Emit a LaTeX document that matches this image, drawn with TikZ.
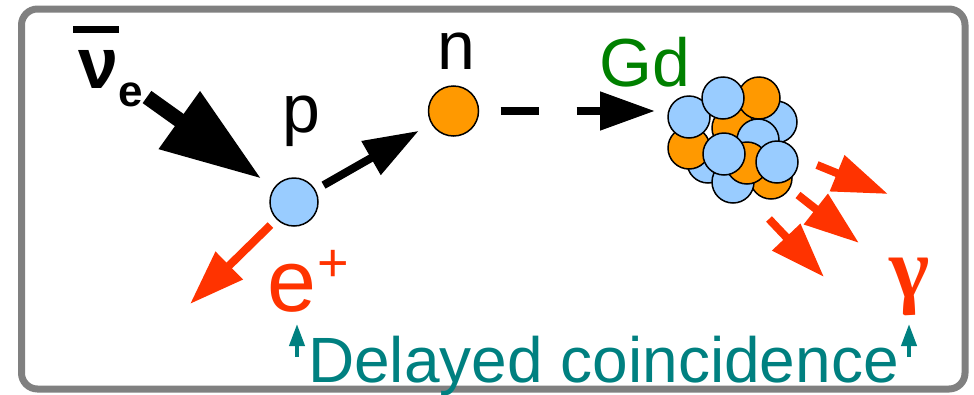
\documentclass[tikz,border=0pt]{standalone}
\usepackage{fontspec}
\setmainfont{Liberation Sans}
\newfontfamily\greekserif{Liberation Serif}
\usepackage{tikz}
\usetikzlibrary{arrows.meta, positioning}
\definecolor{protonblue}{HTML}{99CCFF}
\definecolor{neutronorange}{HTML}{FF9900}
\definecolor{photonred}{HTML}{FF3300}
\definecolor{gdgreen}{HTML}{008000}
\definecolor{cueteal}{HTML}{008080}
\definecolor{framegray}{HTML}{808080}
\tikzset{
	nucleon/.style={
		circle,
		draw,
		line width=1.5pt,
		inner sep=0pt,
		outer sep=0pt,
		minimum size=42pt
	},
	proton/.style={nucleon, fill=protonblue},
	neutron/.style={nucleon, fill=neutronorange},
	tag/.style={
		inner sep=0pt,
		font=\fontsize{68}{68}\selectfont
	},
	ray/.style={
		line width=8pt,
		-{Triangle[length=55pt, width=37pt]}
	},
	bigray/.style={
		line width=15pt,
		-{Triangle[length=101pt, width=67pt]}
	},
	cue/.style={
		cueteal,
		line width=4pt,
		-{Triangle[length=22pt, width=15pt]}
	}
}

\begin{document}
\begin{tikzpicture}[x=1pt, y=-1pt]
	\useasboundingbox (0,0) rectangle (974,394);
	\draw[framegray, line width=7pt, rounded corners=16pt] (21.5,9) rectangle (965,389);

	% incoming antineutrino
	\node[anchor=base west, inner sep=0pt] (nubar) at (73,88)
		{\fontsize{72}{72}\selectfont\bfseries\rlap{\raisebox{55pt}{\rule{46pt}{7pt}}}\hspace{5pt}ν\raisebox{-18pt}{\fontsize{44}{44}\selectfont e}};
	\coordinate (nusrc) at (147,97);

	\node[proton, minimum size=48pt] (p) at (294,202) {};
	\node[neutron, minimum size=50pt] (n) at (453.5,111) {};
	\node[tag, above=31pt of p, xshift=7pt] (plab) {p};
	\node[tag, above=16pt of n, xshift=2.5pt] (nlab) {n};

	% Gd nucleus, back to front
	\foreach \x/\y/\kind [count=\i] in {
		776/122/proton, 771/178/neutron, 708/162/proton, 733/182/proton,
		733/128/neutron, 758/140/proton, 689/148/neutron, 689/117/proton,
		759/98/neutron, 723/98/proton, 747/163/neutron, 777/162/proton,
		724/154/proton}
		\node[\kind] (g\i) at (\x,\y) {};
	\node[tag, text=gdgreen, anchor=base] (gd) at (645,86) {Gd};

	\draw[bigray, shorten >=16pt] (nusrc) -- (p);
	\draw[ray, shorten <=10pt, shorten >=15pt] (p) -- (n);
	\draw[ray, dash pattern=on 38pt off 38pt, shorten <=22pt, shorten >=13pt] (n) -- (n -| g8.west);

	% positron and gammas
	\coordinate (etip) at (190,304);
	\draw[ray, photonred, shorten <=9pt] (p) -- (etip);
	\node[anchor=base west, inner sep=0pt, text=photonred] (eplus) at (267.5,311)
		{\fontsize{88}{88}\selectfont e\kern1pt\raisebox{30pt}{\fontsize{54}{54}\selectfont +}};

	\coordinate (ga0) at (817,165); \coordinate (ga1) at (888,194);
	\coordinate (gb0) at (798,195); \coordinate (gb1) at (859,243);
	\coordinate (gc0) at (769,219); \coordinate (gc1) at (824,277);
	\foreach \g in {ga, gb, gc}
		\draw[ray, photonred] (\g0) -- (\g1);
	\node[text=photonred, inner sep=0pt, font=\fontsize{86}{86}\selectfont\greekserif\bfseries] (gamma) at (910,287) {γ};

	% coincidence window
	\node[anchor=base west, inner sep=0pt, text=cueteal, font=\fontsize{64}{64}\selectfont] (delay) at (308,382) {Delayed coincidence};
	\coordinate (cueL) at (297,357);
	\coordinate (cueR) at (909,357);
	\draw[cue] (cueL) -- ++(0,-33);
	\draw[cue] (cueR) -- ++(0,-33);
\end{tikzpicture}
\end{document}
